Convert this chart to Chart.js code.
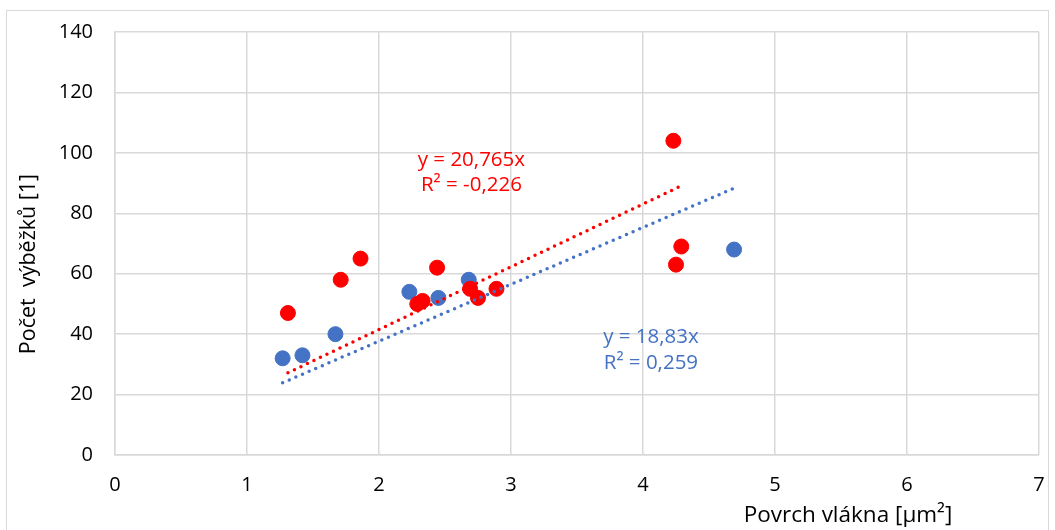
<!DOCTYPE html>
<html>
<head>
<meta charset="utf-8">
<script src="https://cdn.jsdelivr.net/npm/chart.js@4/dist/chart.umd.min.js"></script>
<style>
  html, body { margin: 0; padding: 0; background: #fff; }
  #wrap { width: 1055px; height: 530px; position: relative; }
</style>
</head>
<body>
<div id="wrap"><canvas id="c"></canvas></div>
<script>
// blue series
const blueX = [1.27, 1.42, 1.67, 2.23, 2.45, 2.68, 4.69];
const blueY = [32, 33, 40, 54, 52, 58, 68];
// red series
const redX = [1.31, 1.71, 1.86, 2.29, 2.33, 2.44, 2.69, 2.75, 2.89, 4.23, 4.25, 4.29];
const redY = [47, 58, 65, 50, 51, 62, 55, 52, 55, 104, 63, 69];
// trendlines (y = k*x, through origin)
const blueSlope = 18.83;
const redSlope = 20.765;
const blueEq = ["y = 18,83x", "R² = 0,259"];
const redEq = ["y = 20,765x", "R² = -0,226"];
const xTicks = [0, 1, 2, 3, 4, 5, 6, 7];
const yTicks = [0, 20, 40, 60, 80, 100, 120, 140];

const BLUE = "#4472C4";
const RED = "#FF0000";
const FONT = "'Open Sans', sans-serif";

const pts = (xs, ys) => xs.map((x, i) => ({ x, y: ys[i] }));
const trend = (xs, k) => {
  const lo = Math.min(...xs), hi = Math.max(...xs);
  return [{ x: lo, y: k * lo }, { x: hi, y: k * hi }];
};

const labelsPlugin = {
  id: "labels",
  afterDraw(chart) {
    const { ctx, scales } = chart;
    ctx.save();
    // outer frame
    ctx.strokeStyle = "#d9d9d9";
    ctx.lineWidth = 1;
    ctx.strokeRect(6.5, 10.5, 1042, 530);

    ctx.font = "20.5px " + FONT;
    ctx.textAlign = "center";
    ctx.textBaseline = "middle";
    // equations, placed in data units
    const drawEq = (lines, color, x, y1, y2) => {
      ctx.fillStyle = color;
      ctx.fillText(lines[0], scales.x.getPixelForValue(x), scales.y.getPixelForValue(y1));
      ctx.fillText(lines[1], scales.x.getPixelForValue(x), scales.y.getPixelForValue(y2));
    };
    drawEq(redEq, RED, 2.7, 97.5, 89.2);
    drawEq(blueEq, BLUE, 4.06, 39, 30.5);

    // axis titles
    ctx.fillStyle = "#000";
    ctx.font = "22.5px " + FONT;
    ctx.fillText("Povrch vlákna [μm²]", 848, 516);
    ctx.font = "21.5px " + FONT;
    ctx.translate(29, 264);
    ctx.rotate(-Math.PI / 2);
    ctx.fillText("Počet  výběžků [1]", 0, 0);
    ctx.restore();
  }
};

new Chart(document.getElementById("c"), {
  type: "scatter",
  data: {
    datasets: [
      {
        data: pts(blueX, blueY),
        backgroundColor: BLUE, borderColor: BLUE,
        pointRadius: 7.5, pointHoverRadius: 7.5, order: 4
      },
      {
        data: pts(redX, redY),
        backgroundColor: RED, borderColor: RED,
        pointRadius: 7.5, pointHoverRadius: 7.5, order: 3
      },
      {
        type: "line",
        data: trend(blueX, blueSlope),
        borderColor: BLUE, borderWidth: 3.5,
        borderDash: [0, 7.2], borderCapStyle: "round",
        pointRadius: 0, fill: false, order: 2
      },
      {
        type: "line",
        data: trend(redX, redSlope),
        borderColor: RED, borderWidth: 3.5,
        borderDash: [0, 7.2], borderCapStyle: "round",
        pointRadius: 0, fill: false, order: 1
      }
    ]
  },
  options: {
    responsive: true,
    maintainAspectRatio: false,
    animation: false,
    layout: { padding: { left: 0, top: 32, right: 16, bottom: 0 } },
    plugins: { legend: { display: false }, tooltip: { enabled: false } },
    scales: {
      x: {
        type: "linear", min: 0, max: 7,
        afterBuildTicks: (s) => { s.ticks = xTicks.map(v => ({ value: v })); },
        afterFit: (s) => { s.height = 75; s.paddingLeft = 0; s.paddingRight = 0; },
        grid: { color: "#d9d9d9", lineWidth: 1.5, drawTicks: false },
        border: { color: "#d9d9d9", width: 1.5 },
        ticks: { color: "#000", font: { family: FONT, size: 20 }, padding: 18 }
      },
      y: {
        type: "linear", min: 0, max: 140,
        afterBuildTicks: (s) => { s.ticks = yTicks.map(v => ({ value: v })); },
        afterFit: (s) => { s.width = 115; s.paddingTop = 0; s.paddingBottom = 0; },
        grid: { color: "#d9d9d9", lineWidth: 1.5, drawTicks: false },
        border: { color: "#d9d9d9", width: 1.5 },
        ticks: { color: "#000", font: { family: FONT, size: 20 }, padding: 22 }
      }
    }
  },
  plugins: [labelsPlugin]
});
</script>
</body>
</html>
